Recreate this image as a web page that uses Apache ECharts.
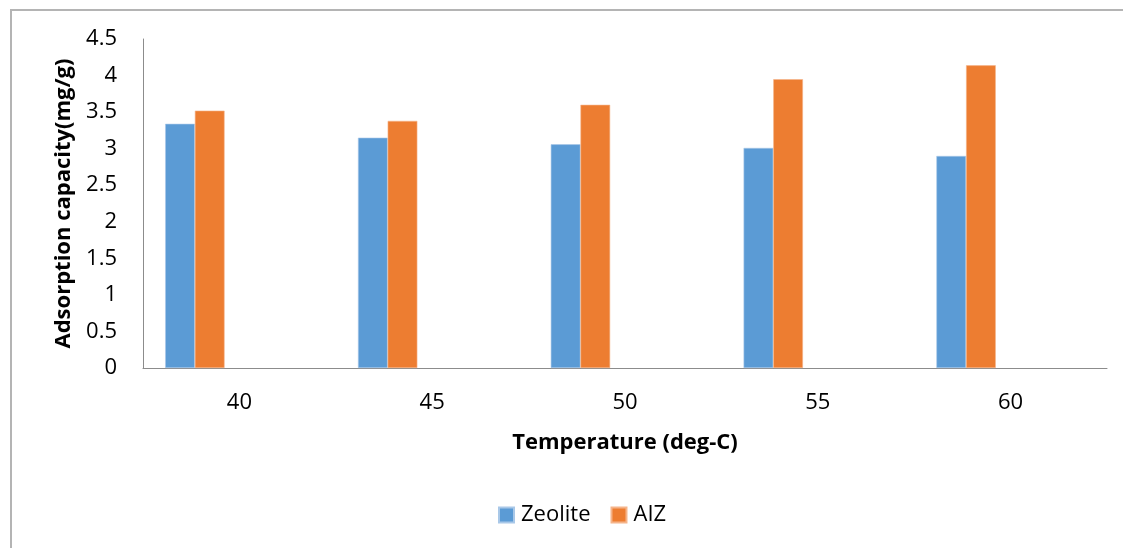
<!DOCTYPE html>
<html>
<head>
<meta charset="utf-8">
<script src="https://cdn.jsdelivr.net/npm/echarts@6/dist/echarts.min.js"></script>
<style>
  html, body { margin: 0; padding: 0; background: #fff; }
  #chart { width: 1123px; height: 548px; }
</style>
</head>
<body>
<div id="chart"></div>
<script>
const temps = ['40', '45', '50', '55', '60']
const zeolite = [3.34, 3.15, 3.06, 3.01, 2.90]
const aiz = [3.52, 3.38, 3.60, 3.95, 4.14]
// Excel left room for three more (empty) series in each group
const emptySeries = ['-', '-', '-', '-', '-']

const font = '"Open Sans", "Noto Sans", sans-serif'
const chart = echarts.init(document.getElementById('chart'))

const blank = (name) => ({
  name,
  type: 'bar',
  data: emptySeries,
  barGap: '0%',
  barCategoryGap: '23%'
})

chart.setOption({
  animation: false,
  textStyle: { fontFamily: font },
  graphic: [
    {
      type: 'rect',
      shape: { x: 11, y: 10, width: 1200, height: 600 },
      style: { fill: 'none', stroke: '#b4b4b4', lineWidth: 2 },
      silent: true
    }
  ],
  grid: { left: 143, right: 16, top: 39, bottom: 180 },
  legend: {
    data: ['Zeolite', 'AIZ'],
    bottom: 17,
    left: 493,
    itemWidth: 15,
    itemHeight: 15,
    itemGap: 20,
    icon: 'rect',
    textStyle: { fontSize: 22, color: '#000', fontFamily: font, padding: [0, 0, 0, 2] }
  },
  xAxis: {
    type: 'category',
    data: temps,
    name: 'Temperature (deg-C)',
    nameLocation: 'middle',
    nameGap: 64,
    nameTextStyle: { fontSize: 22, fontWeight: 'bold', color: '#000', fontFamily: font },
    axisLine: { lineStyle: { color: '#8c8c8c', width: 1 } },
    axisTick: { show: false },
    axisLabel: { fontSize: 22, color: '#000', margin: 24 }
  },
  yAxis: {
    type: 'value',
    min: 0,
    max: 4.5,
    interval: 0.5,
    name: 'Adsorption capacity(mg/g)',
    nameLocation: 'middle',
    nameGap: 68,
    nameTextStyle: { fontSize: 22, fontWeight: 'bold', color: '#000', fontFamily: font },
    axisLine: { show: true, lineStyle: { color: '#8c8c8c', width: 1 } },
    axisTick: { show: false },
    splitLine: { show: false },
    axisLabel: { fontSize: 22, color: '#000', margin: 26 }
  },
  series: [
    {
      name: 'Zeolite',
      type: 'bar',
      data: zeolite,
      barGap: '0%',
      barCategoryGap: '23%',
      itemStyle: { color: '#5b9bd5', borderColor: '#a9c8e8', borderWidth: 0.6 }
    },
    {
      name: 'AIZ',
      type: 'bar',
      data: aiz,
      barGap: '0%',
      barCategoryGap: '23%',
      itemStyle: { color: '#ed7d31', borderColor: '#f5b48a', borderWidth: 0.6 }
    },
    blank('s3'),
    blank('s4'),
    blank('s5')
  ]
})
</script>
</body>
</html>
